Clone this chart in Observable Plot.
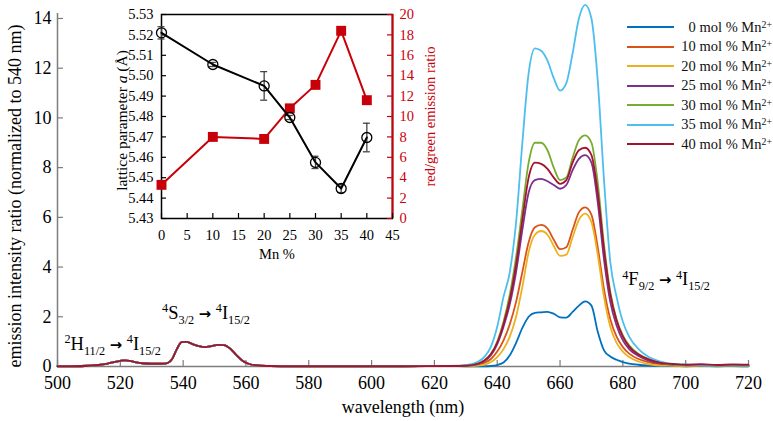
<!DOCTYPE html>
<html>
<head>
<meta charset="utf-8">
<script src="https://cdn.jsdelivr.net/npm/d3@7"></script>
<script src="https://cdn.jsdelivr.net/npm/@observablehq/plot@0.6"></script>
<style>
  body { margin: 0; background: white; }
  #wrap { position: relative; width: 773px; height: 421px; background: white; font-family: 'Liberation Serif', 'Times New Roman', serif; }
  #inset { position: absolute; left: 100px; top: 0px; }
  #legend { position: absolute; left: 627px; top: 17.5px; font-size: 14.5px; color: #111; }
  .row { display: flex; align-items: center; height: 19.5px; line-height: 1; }
  .sw { width: 47px; height: 0; border-top: 2.5px solid; }
  .lt { width: 91px; margin-left: 7px; text-align: right; white-space: nowrap; }
  .lt sup { font-size: 0.68em; vertical-align: 0.45em; }
</style>
</head>
<body>
<div id="wrap"><div id="inset"></div><div id="legend"></div></div>
<script>
// ---------- main spectra ----------
const seriesMn = [0, 10, 20, 25, 30, 35, 40];
const seriesColors = ["#0072BD", "#D95319", "#EDB120", "#7E2F8E", "#77AC30", "#4DBEEE", "#A2142F"];

const greenWl = [500, 505, 510, 513, 516, 518, 520, 521.5, 523, 525, 527, 530, 533, 535, 536.5, 538, 539.5, 541, 543, 545, 547, 549, 551, 553, 555, 557, 559, 561, 564, 568, 575, 590, 610, 625];
const greenBand = [0.01, 0.01, 0.03, 0.06, 0.12, 0.18, 0.23, 0.25, 0.23, 0.17, 0.13, 0.11, 0.11, 0.14, 0.3, 0.7, 0.98, 0.99, 0.9, 0.82, 0.78, 0.82, 0.87, 0.86, 0.72, 0.45, 0.22, 0.1, 0.04, 0.02, 0.01, 0.01, 0.01, 0.02];

const redWl = [630, 634, 636, 638, 640, 642, 644, 646, 648, 650, 652, 654, 656, 658, 660, 662, 664, 666, 668, 670, 672, 674, 676, 678, 680, 682, 685, 688, 692, 696, 700, 705, 710, 715, 720];
const red0  = [0.01,0.01,0.01,0.02,0.06,0.16,0.45,0.95,1.55,2.0,2.16,2.18,2.2,2.12,1.98,1.97,2.2,2.45,2.62,2.45,1.4,0.65,0.4,0.27,0.18,0.12,0.07,0.04,0.02,0.02,0.01,0.02,0.01,0.02,0.01];
const red10 = [0.02,0.08,0.15,0.3,0.6,1.05,1.7,2.6,3.8,5.0,5.6,5.7,5.55,5.1,4.72,4.8,5.5,6.2,6.4,6.1,4.8,3.1,1.9,1.2,0.78,0.52,0.3,0.18,0.09,0.05,0.03,0.03,0.02,0.03,0.02];
const red20 = [0.01,0.04,0.08,0.18,0.38,0.7,1.2,2.0,3.2,4.6,5.3,5.45,5.3,4.85,4.45,4.5,5.2,5.9,6.15,5.8,4.5,2.8,1.6,0.95,0.6,0.38,0.2,0.1,0.04,0.03,0.02,0.02,0.01,0.02,0.01];
const red25 = [0.03,0.1,0.22,0.45,0.9,1.6,2.5,3.8,5.5,7.0,7.5,7.55,7.45,7.3,7.15,7.3,7.9,8.35,8.5,8.2,6.6,4.3,2.6,1.65,1.05,0.7,0.42,0.25,0.12,0.07,0.05,0.04,0.03,0.04,0.03];
const red30 = [0.03,0.12,0.25,0.5,1.0,1.8,2.9,4.4,6.3,8.2,9.0,9.0,8.7,8.0,7.5,7.6,8.4,9.1,9.3,9.0,7.4,4.9,3.0,1.9,1.25,0.85,0.5,0.3,0.15,0.08,0.05,0.04,0.03,0.04,0.03];
const red35 = [0.05,0.2,0.4,0.8,1.6,2.8,3.8,5.8,9.0,11.8,12.8,12.7,12.3,11.6,11.1,11.4,12.6,14.0,14.55,14.0,11.5,7.5,4.2,2.8,1.8,1.2,0.7,0.4,0.2,0.1,0.08,0.05,0.04,0.05,0.04];
const red40 = [0.03,0.12,0.25,0.5,0.95,1.7,2.7,4.1,5.9,7.6,8.2,8.15,7.95,7.6,7.35,7.5,8.2,8.7,8.8,8.5,7.0,4.7,2.9,1.85,1.2,0.8,0.48,0.3,0.15,0.1,0.07,0.09,0.06,0.08,0.07];
const redBands = [red0, red10, red20, red25, red30, red35, red40];

const xTicks = [500, 520, 540, 560, 580, 600, 620, 640, 660, 680, 700, 720];
const yTicks = [0, 2, 4, 6, 8, 10, 12, 14];

// ---------- inset ----------
const mnPct = [0, 10, 20, 25, 30, 35, 40];
const latticeA = [5.521, 5.5055, 5.495, 5.4795, 5.4575, 5.4447, 5.4697];
const latticeErr = [0.003, 0.001, 0.007, 0.001, 0.003, 0.002, 0.007];
const redGreen = [3.3, 8.0, 7.8, 10.8, 13.1, 18.4, 11.6];
const insetXTicks = [0, 5, 10, 15, 20, 25, 30, 35, 40, 45];
const insetLeftTicks = [5.43, 5.44, 5.45, 5.46, 5.47, 5.48, 5.49, 5.50, 5.51, 5.52, 5.53];
const insetRightTicks = [0, 2, 4, 6, 8, 10, 12, 14, 16, 18, 20];

const FONT = "'Liberation Serif', 'Times New Roman', serif";
const RED = "#c8000a";
const AXISGRAY = "#7d7d7d";

const wavelengths = greenWl.concat(redWl);
const spectra = seriesMn.flatMap((mn, i) => {
  const vals = greenBand.concat(redBands[i]);
  return wavelengths.map((wl, j) => ({wl, v: vals[j], series: mn}));
});

const W = 773, H = 421, ML = 57, MR = 25, MT = 13, MB = 55;
const PW = W - ML - MR, PH = H - MT - MB;

const main = Plot.plot({
  width: W, height: H,
  marginLeft: ML, marginRight: MR, marginTop: MT, marginBottom: MB,
  x: {domain: [500, 720]},
  y: {domain: [0, 14.2]},
  color: {domain: seriesMn, range: seriesColors},
  style: {fontFamily: FONT, fontSize: "18px", background: "transparent", color: "black"},
  marks: [
    Plot.ruleX([500], {stroke: AXISGRAY, strokeWidth: 1.5}),
    Plot.ruleY([0], {stroke: AXISGRAY, strokeWidth: 1.5}),
    Plot.tickY(yTicks, {y: d => d, insetRight: PW - 6, stroke: AXISGRAY, strokeWidth: 1.2}),
    Plot.tickX(xTicks, {x: d => d, insetTop: PH - 6, stroke: AXISGRAY, strokeWidth: 1.2}),
    Plot.axisY(yTicks, {tickSize: 0, tickPadding: 6, label: null, fontSize: 18}),
    Plot.axisX(xTicks, {tickSize: 0, tickPadding: 10, label: null, fontSize: 18}),
    Plot.lineY(spectra, {x: "wl", y: "v", z: "series", stroke: "series", strokeWidth: 1.8, curve: "monotone-x"}),
    Plot.text(["emission intensity ratio (normalized to 540 nm)"], {frameAnchor: "left", textAnchor: "middle", rotate: -90, dx: -42, dy: 6, fontSize: 18}),
    Plot.text(["wavelength (nm)"], {frameAnchor: "bottom", textAnchor: "middle", dy: 46, fontSize: 18}),
    Plot.text(["{sup:2}H{sub:11/2} {a:\u2192} {sup:4}I{sub:15/2}"], {x: 502.2, y: 0.9, textAnchor: "start", fontSize: 18.5}),
    Plot.text(["{sup:4}S{sub:3/2} {a:\u2192} {sup:4}I{sub:15/2}"], {x: 533.3, y: 2.15, textAnchor: "start", fontSize: 18.5}),
    Plot.text(["{sup:4}F{sub:9/2} {a:\u2192} {sup:4}I{sub:15/2}"], {x: 679.8, y: 3.5, textAnchor: "start", fontSize: 18.5})
  ]
});

const inset = mnPct.map((mn, i) => ({mn, a: latticeA[i], e: latticeErr[i], r: redGreen[i]}));
const toA = r => 5.43 + r * 0.005;
const IW = 345, IH = 270, IML = 61, IMR = 53, IMT = 14, IMB = 52;
const IPW = IW - IML - IMR, IPH = IH - IMT - IMB;

const insetPlot = Plot.plot({
  width: IW, height: IH,
  marginLeft: IML, marginRight: IMR, marginTop: IMT, marginBottom: IMB,
  x: {domain: [0, 45]},
  y: {domain: [5.43, 5.53]},
  style: {fontFamily: FONT, fontSize: "14.5px", background: "transparent", color: "black"},
  marks: [
    Plot.frame({stroke: "black", strokeWidth: 1.5}),
    Plot.ruleX([45], {stroke: RED, strokeWidth: 2}),
    Plot.tickY(insetLeftTicks, {y: d => d, insetRight: IPW - 5, stroke: "black", strokeWidth: 1.2}),
    Plot.tickY(insetRightTicks.map(toA), {y: d => d, insetLeft: IPW - 5, stroke: RED, strokeWidth: 1.2}),
    Plot.tickX(insetXTicks, {x: d => d, insetTop: IPH - 5, stroke: "black", strokeWidth: 1.2}),
    Plot.axisY(insetLeftTicks, {tickSize: 0, tickPadding: 8, tickFormat: d3.format(".2f"), label: null}),
    Plot.axisY(insetRightTicks.map(toA), {anchor: "right", tickSize: 0, tickPadding: 7, tickFormat: v => String(Math.round((v - 5.43) / 0.005)), color: RED, label: null}),
    Plot.axisX(insetXTicks, {tickSize: 0, tickPadding: 11, label: null}),
    Plot.line(inset, {x: "mn", y: d => toA(d.r), stroke: RED, strokeWidth: 2}),
    Plot.dot(inset, {x: "mn", y: d => toA(d.r), symbol: "square", r: 5.6, fill: RED, stroke: "none"}),
    Plot.ruleX(inset, {x: "mn", y1: d => d.a - d.e, y2: d => d.a + d.e, stroke: "#444", strokeWidth: 1.3}),
    Plot.ruleY(inset, {y: d => d.a + d.e, x1: "mn", x2: "mn", insetLeft: -3.5, insetRight: -3.5, stroke: "#444", strokeWidth: 1.3}),
    Plot.ruleY(inset, {y: d => d.a - d.e, x1: "mn", x2: "mn", insetLeft: -3.5, insetRight: -3.5, stroke: "#444", strokeWidth: 1.3}),
    Plot.line(inset, {x: "mn", y: "a", stroke: "black", strokeWidth: 2}),
    Plot.dot(inset, {x: "mn", y: "a", r: 5, stroke: "black", fill: "none", strokeWidth: 1.3}),
    Plot.text(["lattice parameter {i:a} (\u00C5)"], {frameAnchor: "left", textAnchor: "middle", rotate: -90, dx: -39, dy: 4, fontSize: 15.5}),
    Plot.text(["red/green emission ratio"], {frameAnchor: "right", textAnchor: "middle", rotate: -90, dx: 38, fontSize: 14.5, fill: RED}),
    Plot.text(["Mn %"], {frameAnchor: "bottom", textAnchor: "middle", dy: 40, fontSize: 14.5})
  ]
});

// rich text: superscripts, subscripts, italics, arrow glyph
function richify(svg) {
  d3.select(svg).selectAll("text").each(function() {
    const s = this.textContent;
    if (!s.includes("{")) return;
    const base = parseFloat(this.getAttribute("font-size")) || parseFloat(getComputedStyle(this).fontSize) || 18;
    const el = d3.select(this);
    el.selectAll("*").remove();
    this.textContent = "";
    let shift = 0;
    for (const m of s.matchAll(/\{(sup|sub|i|a):([^}]*)\}|([^{]+)/g)) {
      const t = el.append("tspan");
      let target = 0;
      if (m[3] !== undefined) {
        t.text(m[3]);
      } else {
        t.text(m[2]);
        if (m[1] === "i") t.attr("font-style", "italic");
        else if (m[1] === "a") t.attr("font-family", "'DejaVu Sans', sans-serif").attr("font-weight", "bold").attr("font-size", 0.82 * base);
        else {
          target = m[1] === "sup" ? -0.38 * base : 0.28 * base;
          t.attr("font-size", 0.68 * base);
        }
      }
      if (target !== shift) t.attr("dy", target - shift);
      shift = target;
    }
  });
}
richify(main);
richify(insetPlot);

const wrap = document.getElementById("wrap");
wrap.insertBefore(main, wrap.firstChild);
main.style.position = "absolute"; main.style.left = "0"; main.style.top = "0";
document.getElementById("inset").appendChild(insetPlot);

const legend = d3.select("#legend");
seriesMn.forEach((mn, i) => {
  const row = legend.append("div").attr("class", "row");
  row.append("div").attr("class", "sw").style("border-top-color", seriesColors[i]);
  row.append("div").attr("class", "lt").html(`${mn} mol % Mn<sup>2+</sup>`);
});
</script>
</body>
</html>
